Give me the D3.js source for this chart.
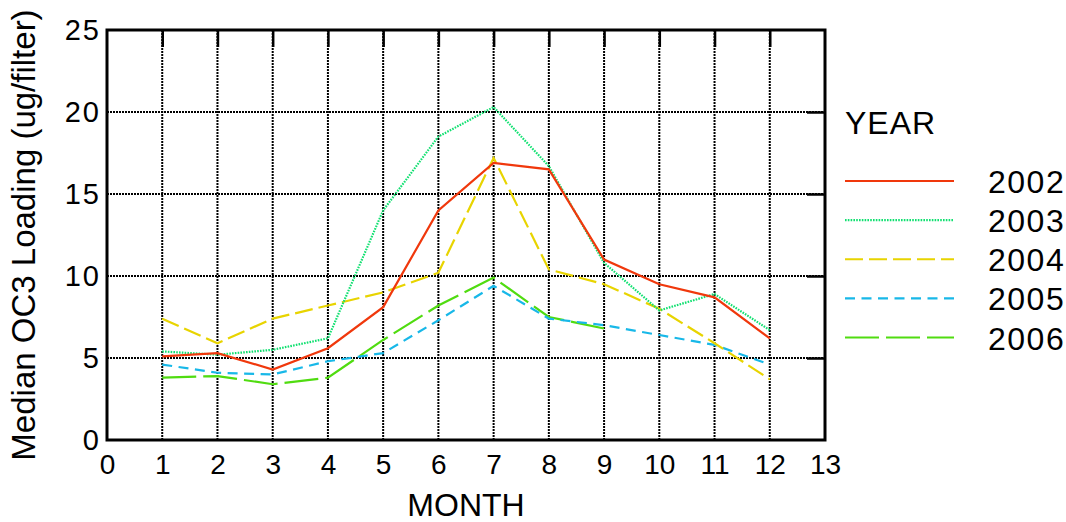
<!DOCTYPE html>
<html>
<head>
<meta charset="utf-8">
<script src="https://cdn.jsdelivr.net/npm/d3@7/dist/d3.min.js"></script>
<style>
  html, body { margin: 0; padding: 0; background: #fff; }
  svg { display: block; font-family: "Liberation Sans", Arial, Helvetica, sans-serif; }
</style>
</head>
<body>
<svg id="chart" width="1066" height="522"></svg>
<script>
// ---- data ----
const months = [1, 2, 3, 4, 5, 6, 7, 8, 9, 10, 11, 12];
const years = ["2002", "2003", "2004", "2005", "2006"];
const v2002 = [5.1, 5.3, 4.3, 5.6, 8.1, 14.0, 16.9, 16.5, 11.0, 9.5, 8.7, 6.2];
const v2003 = [5.4, 5.2, 5.5, 6.2, 14.0, 18.5, 20.3, 16.7, 10.8, 7.9, 8.9, 6.7];
const v2004 = [7.4, 5.9, 7.4, 8.2, 9.0, 10.2, 17.2, 10.4, 9.5, 8.0, 5.9, 3.7];
const v2005 = [4.6, 4.1, 4.0, 4.8, 5.3, 7.3, 9.4, 7.4, 7.0, 6.4, 5.8, 4.6];
const v2006 = [3.8, 3.9, 3.4, 3.8, 6.1, 8.2, 9.9, 7.5, 6.8];
const xTicks = [0, 1, 2, 3, 4, 5, 6, 7, 8, 9, 10, 11, 12, 13];
const yTicks = [0, 5, 10, 15, 20, 25];
const gridX = [1, 2, 3, 4, 5, 6, 7, 8, 9, 10, 11, 12];
const gridY = [5, 10, 15, 20];

const seriesValues = [v2002, v2003, v2004, v2005, v2006];
const colors = ["#f0380c", "#10e070", "#e8d400", "#18b8e8", "#50dc10"];
const dashes = ["none", "1.6,1.2", "18,6", "10,6.5", "34,7"];

// ---- layout ----
const svg = d3.select("#chart");
const x = d3.scaleLinear().domain([0, 13]).range([107, 825]);
const y = d3.scaleLinear().domain([0, 25]).range([440, 30]);

// grid
const grid = svg.append("g").attr("stroke", "#000").attr("stroke-width", 2)
  .attr("stroke-dasharray", "2,1").attr("fill", "none");
grid.selectAll("line.gx").data(gridX).join("line").attr("class", "gx")
  .attr("x1", d => x(d)).attr("x2", d => x(d)).attr("y1", y(25)).attr("y2", y(0));
grid.selectAll("line.gy").data(gridY).join("line").attr("class", "gy")
  .attr("y1", d => y(d)).attr("y2", d => y(d)).attr("x1", x(0)).attr("x2", x(13));

// top inward ticks
const topAxis = svg.append("g").attr("transform", `translate(0,${y(25)})`)
  .call(d3.axisTop(x).tickValues(gridX).tickSize(-17).tickFormat(""));
topAxis.select(".domain").remove();
topAxis.selectAll("line").attr("stroke", "#000").attr("stroke-width", 2.5);

// right inward ticks
const rightAxis = svg.append("g").attr("transform", `translate(${x(13)},0)`)
  .call(d3.axisRight(y).tickValues(gridY).tickSize(-18).tickFormat(""));
rightAxis.select(".domain").remove();
rightAxis.selectAll("line").attr("stroke", "#000").attr("stroke-width", 2.5);

// bottom labels
const bottomAxis = svg.append("g").attr("transform", `translate(0,${y(0)})`)
  .call(d3.axisBottom(x).tickValues(xTicks).tickSize(0).tickPadding(14).tickFormat(d3.format("d")));
bottomAxis.select(".domain").remove();
bottomAxis.selectAll("text").attr("font-size", 28).attr("fill", "#000")
  .style("font-family", "'Liberation Sans', Arial, sans-serif");

// left labels
const leftAxis = svg.append("g").attr("transform", `translate(${x(0)},0)`)
  .call(d3.axisLeft(y).tickValues(yTicks).tickSize(0).tickPadding(6).tickFormat(d3.format("d")));
leftAxis.select(".domain").remove();
leftAxis.selectAll("text").attr("font-size", 29).attr("fill", "#000").attr("dy", "0.34em")
  .style("letter-spacing", "2px")
  .style("font-family", "'Liberation Sans', Arial, sans-serif");

// series lines
const line = d3.line().x((d, i) => x(months[i])).y(d => y(d));
const order = [4, 3, 2, 1, 0];
svg.append("g").selectAll("path").data(order).join("path")
  .attr("d", k => line(seriesValues[k]))
  .attr("fill", "none")
  .attr("stroke", k => colors[k])
  .attr("stroke-width", 2.2)
  .attr("stroke-dasharray", k => dashes[k])
  .attr("stroke-linejoin", "miter");

// frame
svg.append("rect").attr("x", x(0)).attr("y", y(25))
  .attr("width", x(13) - x(0)).attr("height", y(0) - y(25))
  .attr("fill", "none").attr("stroke", "#000").attr("stroke-width", 3);

// axis titles
svg.append("text").attr("x", (x(0) + x(13)) / 2).attr("y", 516)
  .attr("text-anchor", "middle").attr("font-size", 32).attr("fill", "#000").text("MONTH");
svg.append("text").attr("transform", `translate(35,${(y(0) + y(25)) / 2}) rotate(-90)`)
  .attr("text-anchor", "middle").attr("font-size", 33).attr("fill", "#000")
  .text("Median OC3 Loading (ug/filter)");

// legend
const legend = svg.append("g");
legend.append("text").attr("x", 845).attr("y", 134).attr("font-size", 32).attr("fill", "#000")
  .style("letter-spacing", "1px").text("YEAR");
const ly = d3.scalePoint().domain(years).range([181, 337.5]);
const items = legend.selectAll("g.item").data(years).join("g").attr("class", "item");
items.append("line")
  .attr("x1", 845).attr("x2", 954)
  .attr("y1", d => ly(d)).attr("y2", d => ly(d))
  .attr("stroke", (d, i) => colors[i]).attr("stroke-width", 2.2)
  .attr("stroke-dasharray", (d, i) => dashes[i]);
items.append("text").attr("x", 988).attr("y", d => ly(d) + 12)
  .attr("font-size", 32).attr("fill", "#000").style("letter-spacing", "1.5px").text(d => d);
</script>
</body>
</html>
